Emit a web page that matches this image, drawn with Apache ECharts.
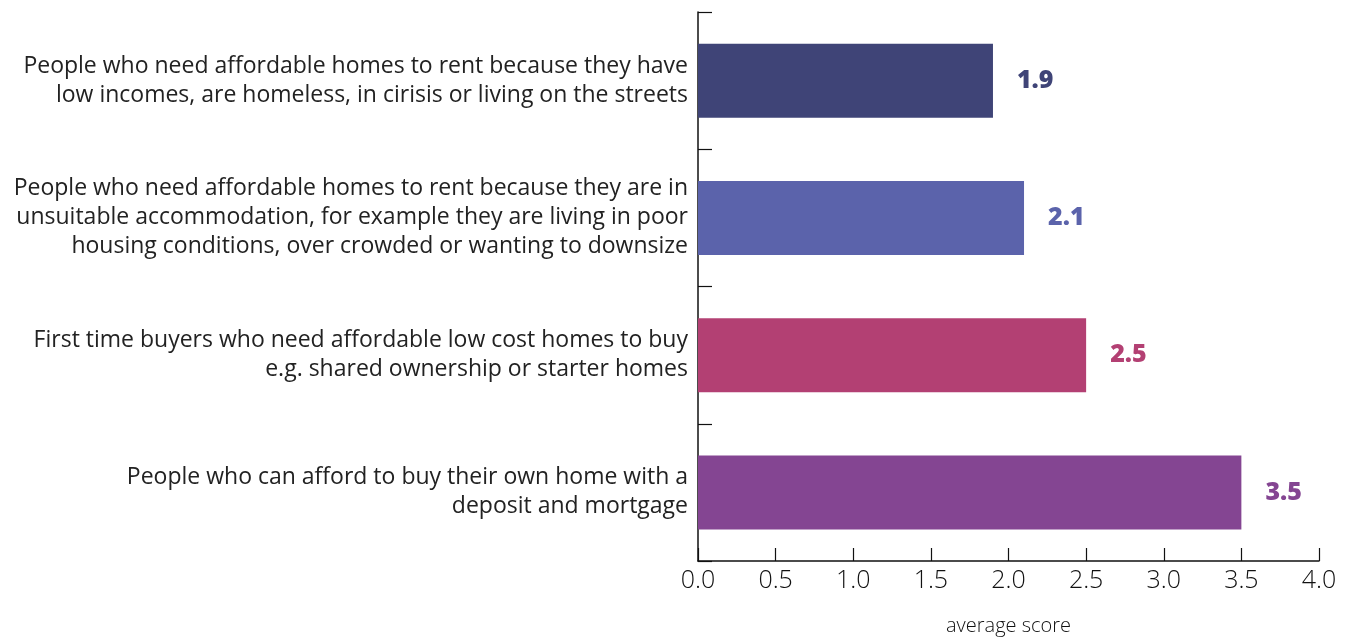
<!DOCTYPE html>
<html><head><meta charset="utf-8">
<script src="https://cdn.jsdelivr.net/npm/echarts@6/dist/echarts.min.js"></script>
<style>html,body{margin:0;padding:0;background:#fff}#c{width:1351px;height:637px}</style>
</head><body><div id="c"></div>
<script>
const categories = [
  "People who need affordable homes to rent because they have\nlow incomes, are homeless, in cirisis or living on the streets",
  "People who need affordable homes to rent because they are in\nunsuitable accommodation, for example they are living in poor\nhousing conditions, over crowded or wanting to downsize",
  "First time buyers who need affordable low cost homes to buy\ne.g. shared ownership or starter homes",
  "People who can afford to buy their own home with a\ndeposit and mortgage"
];
const values = [1.9, 2.1, 2.5, 3.5];
const colors = ["#3f4477", "#5b63ab", "#b34073", "#844592"];
const xTicks = [0, 0.5, 1, 1.5, 2, 2.5, 3, 3.5, 4];
const axisName = "average score";

const chart = echarts.init(document.getElementById('c'));
chart.setOption({
  animation: false,
  grid: {left: 698, right: 32, top: 12, bottom: 76, containLabel: false, outerBoundsMode: 'none'},
  xAxis: {
    type: 'value', min: 0, max: 4, interval: 0.5,
    name: axisName, nameLocation: 'middle', nameGap: 55,
    nameTextStyle: {fontFamily: 'Open Sans', fontSize: 20, fontWeight: 300, color: '#111'},
    axisLine: {show: true, lineStyle: {color: '#111', width: 1.5}},
    axisTick: {show: true, inside: true, length: 13, lineStyle: {color: '#111', width: 1.2}},
    splitLine: {show: false},
    axisLabel: {fontFamily: 'Open Sans', fontSize: 25, fontWeight: 300, color: '#111', margin: 7,
      formatter: v => v.toFixed(1)}
  },
  yAxis: {
    type: 'category', data: categories, inverse: true,
    axisLine: {show: true, lineStyle: {color: '#111', width: 1.5}},
    axisTick: {show: true, inside: true, length: 14, lineStyle: {color: '#111', width: 1.2}},
    axisLabel: {fontFamily: 'Open Sans', fontSize: 23, fontWeight: 400, color: '#222', lineHeight: 29, margin: 10, align: 'right'}
  },
  series: [{
    type: 'bar', barWidth: 74,
    data: values.map((v, i) => ({value: v, itemStyle: {color: colors[i]}, label: {color: colors[i]}})),
    label: {show: true, position: 'right', distance: 24, fontFamily: 'Open Sans', fontWeight: 800, fontSize: 25,
      formatter: p => p.value.toFixed(1)}
  }]
});
</script></body></html>
